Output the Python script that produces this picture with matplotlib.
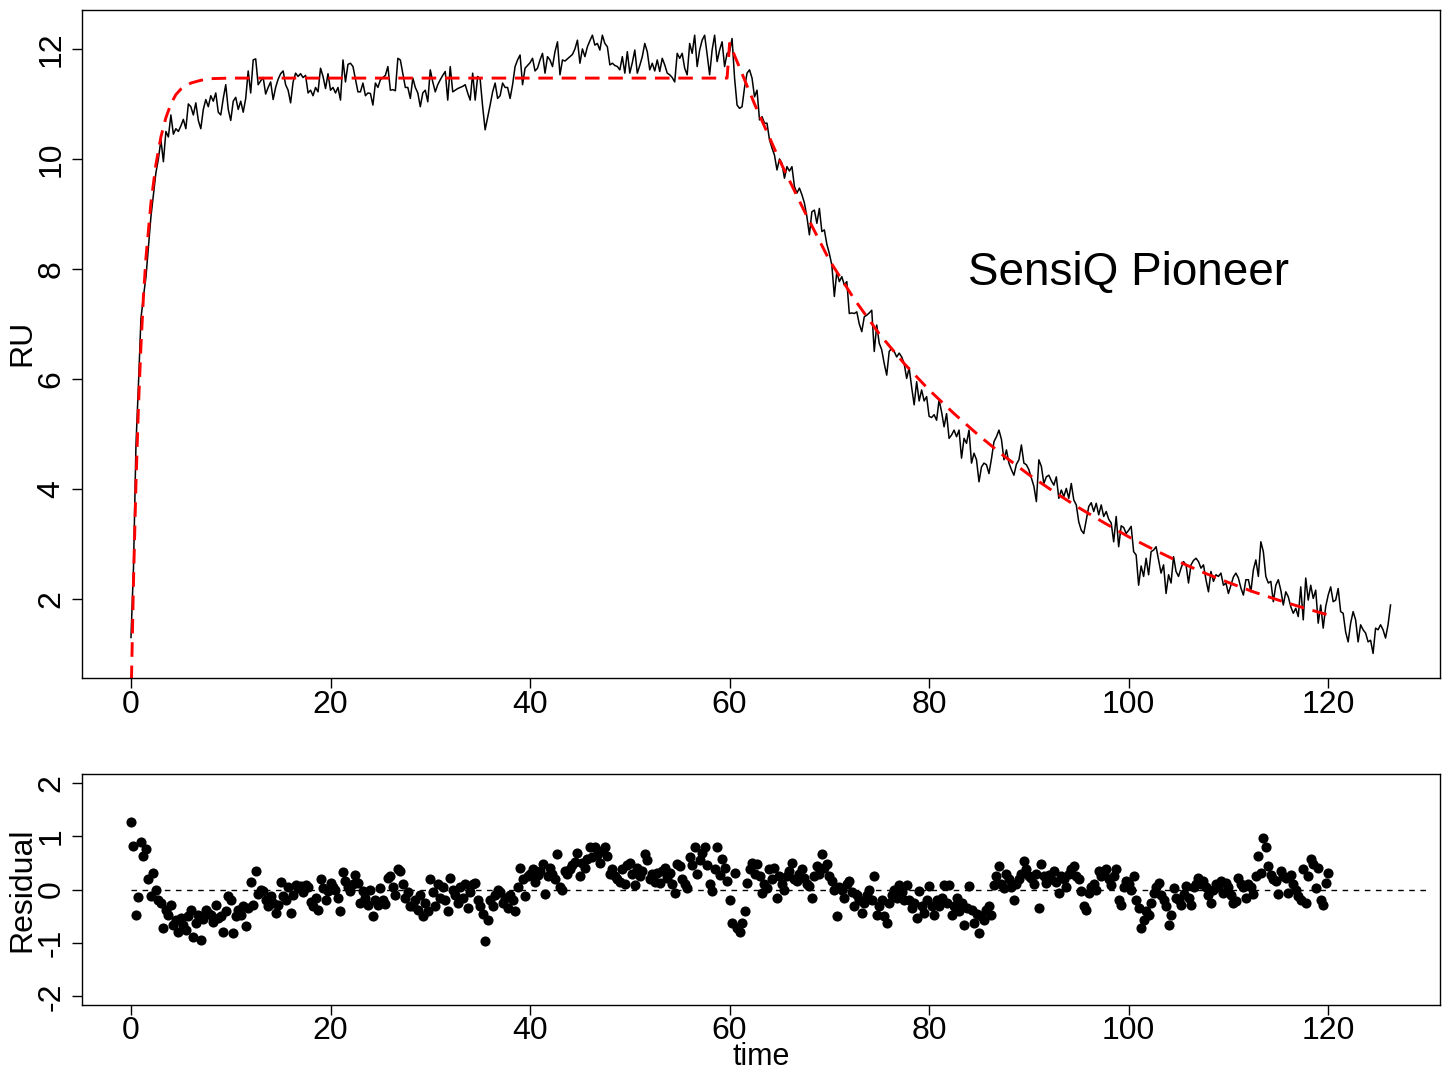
import numpy as np
import matplotlib
matplotlib.use("Agg")
import matplotlib.pyplot as plt

plt.rcParams['font.family'] = ['Liberation Sans', 'DejaVu Sans']
plt.rcParams['axes.unicode_minus'] = False

# sampling interval of the sensorgram (s)
dt = 0.25

# observed response (RU), one row = 5 s
ru_obs = [
    1.30, 2.55, 4.80, 5.90, 7.10, 7.50, 7.85, 8.40, 8.95, 9.35, 9.75, 10.00, 10.35, 9.95, 10.50, 10.40, 10.80, 10.45, 10.55, 10.50,
    10.60, 10.72, 10.55, 11.00, 10.95, 10.80, 11.02, 10.70, 10.55, 10.90, 11.08, 10.95, 11.15, 11.05, 11.20, 10.85, 10.80, 11.10, 11.35, 10.90,
    10.70, 11.05, 11.12, 10.90, 11.05, 10.85, 11.10, 11.60, 11.20, 11.80, 11.82, 11.35, 11.42, 11.48, 11.18, 11.30, 11.40, 11.08, 11.30, 11.45,
    11.55, 11.60, 11.35, 11.25, 11.02, 11.40, 11.56, 11.50, 11.55, 11.48, 11.52, 11.20, 11.25, 11.15, 11.30, 11.22, 11.65, 11.50, 11.28, 11.55,
    11.25, 11.30, 11.20, 11.30, 11.07, 11.80, 11.40, 11.72, 11.74, 11.68, 11.45, 11.22, 11.22, 11.38, 11.15, 11.20, 11.19, 10.98, 11.38, 11.30,
    11.44, 11.48, 11.52, 11.68, 11.25, 11.26, 11.24, 11.83, 11.80, 11.55, 11.30, 11.30, 11.10, 11.47, 11.30, 11.20, 10.95, 11.20, 11.25, 11.04,
    11.62, 11.40, 11.22, 11.35, 11.44, 11.52, 11.59, 11.07, 11.68, 11.22, 11.25, 11.28, 11.30, 11.32, 11.35, 11.20, 11.07, 11.56, 11.07, 11.50,
    11.45, 10.95, 10.53, 10.75, 10.98, 11.22, 11.38, 11.10, 11.15, 11.38, 11.30, 11.30, 11.10, 11.35, 11.68, 11.80, 11.89, 11.35, 11.65, 11.70,
    11.75, 11.83, 11.60, 11.65, 11.80, 11.92, 11.56, 11.86, 11.80, 11.68, 11.95, 12.13, 11.53, 11.80, 11.78, 11.82, 11.86, 11.90, 12.00, 12.16,
    11.74, 12.00, 11.86, 12.04, 12.15, 12.25, 12.07, 12.10, 11.98, 12.25, 12.10, 12.04, 11.71, 11.74, 11.70, 11.68, 11.62, 11.86, 11.56, 11.95,
    11.56, 11.75, 11.98, 11.56, 11.70, 11.86, 12.10, 11.95, 11.62, 11.74, 11.60, 11.80, 11.59, 11.83, 11.71, 11.56, 11.53, 11.48, 11.40, 11.92,
    11.83, 11.92, 11.65, 11.53, 12.10, 11.92, 12.25, 11.68, 11.98, 12.16, 12.25, 11.90, 11.53, 11.98, 12.25, 11.77, 11.98, 12.13, 11.68, 11.92,
    11.95, 12.19, 11.47, 10.98, 10.92, 10.95, 11.30, 11.56, 11.62, 11.47, 11.13, 11.25, 10.71, 10.77, 10.65, 10.65, 10.35, 10.20, 10.07, 9.80,
    10.00, 9.92, 9.65, 9.86, 9.78, 9.86, 9.50, 9.38, 9.47, 9.35, 9.20, 8.95, 8.62, 9.04, 9.07, 8.83, 9.10, 8.68, 8.71, 8.45,
    8.28, 8.07, 7.50, 7.95, 7.77, 7.86, 7.71, 7.77, 7.19, 7.20, 7.19, 7.22, 7.00, 6.86, 7.13, 7.16, 7.20, 7.25, 6.50, 6.98,
    6.65, 6.53, 6.28, 6.07, 6.50, 6.56, 6.50, 6.40, 6.47, 6.40, 6.28, 6.01, 6.20, 5.85, 5.53, 5.95, 5.60, 5.80, 5.60, 5.68,
    5.32, 5.30, 5.35, 5.25, 5.62, 5.40, 5.13, 5.37, 4.92, 4.98, 5.07, 4.95, 5.07, 4.56, 4.92, 4.83, 5.07, 4.47, 4.65, 4.53,
    4.13, 4.40, 4.47, 4.44, 4.28, 4.55, 4.86, 4.95, 5.07, 4.90, 4.53, 4.71, 4.47, 4.35, 4.25, 4.45, 4.53, 4.80, 4.47, 4.44,
    4.35, 4.20, 4.05, 3.77, 4.53, 4.41, 4.10, 4.22, 4.25, 4.15, 4.07, 4.22, 3.83, 3.98, 3.86, 4.01, 3.83, 4.10, 3.80, 3.71,
    3.40, 3.25, 3.19, 3.43, 3.68, 3.75, 3.59, 3.74, 3.53, 3.71, 3.50, 3.59, 3.45, 3.38, 3.04, 3.50, 2.95, 3.33, 3.30, 3.19,
    3.25, 3.32, 2.86, 2.80, 2.25, 2.60, 2.41, 2.74, 2.44, 2.86, 2.89, 2.95, 2.71, 2.47, 2.62, 2.10, 2.44, 2.29, 2.77, 2.50,
    2.41, 2.56, 2.68, 2.62, 2.29, 2.62, 2.70, 2.74, 2.68, 2.56, 2.62, 2.35, 2.13, 2.50, 2.32, 2.44, 2.41, 2.47, 2.25, 2.29,
    2.10, 2.25, 2.40, 2.47, 2.38, 2.20, 2.07, 2.35, 2.35, 2.13, 2.53, 2.71, 2.41, 3.04, 2.86, 2.41, 2.29, 2.32, 1.95, 2.25,
    2.35, 2.16, 1.89, 2.13, 2.04, 1.86, 1.74, 1.83, 1.68, 2.22, 1.62, 2.38, 1.98, 2.25, 2.01, 2.16, 1.56, 1.89, 1.47, 1.86,
    2.07, 2.22, 1.95, 1.98, 2.19, 1.77, 1.74, 1.40, 1.22, 1.56, 1.77, 1.62, 1.22, 1.53, 1.44, 1.38, 1.22, 1.25, 1.01, 1.47,
    1.44, 1.53, 1.44, 1.29, 1.53, 1.89,
]

# residuals (observed - fitted), 0 .. 120 s
resid = [
    1.26, 0.82, -0.47, -0.14, 0.89, 0.63, 0.75, 0.19, -0.13, 0.31, -0.01, -0.19, -0.25, -0.72, -0.38, -0.47, -0.28, -0.66, -0.57, -0.79,
    -0.53, -0.66, -0.75, -0.50, -0.38, -0.88, -0.63, -0.47, -0.94, -0.55, -0.38, -0.44, -0.47, -0.60, -0.28, -0.53, -0.50, -0.79, -0.40, -0.13,
    -0.19, -0.82, -0.50, -0.38, -0.47, -0.30, -0.68, -0.35, 0.14, -0.28, 0.35, -0.09, 0.00, -0.03, -0.20, -0.31, -0.13, -0.25, -0.44, -0.28,
    0.14, -0.13, -0.19, 0.05, -0.44, -0.10, 0.09, 0.02, 0.06, -0.05, 0.09, 0.05, -0.24, -0.30, -0.15, -0.39, 0.20, 0.03, -0.19, -0.03,
    0.13, 0.05, 0.00, -0.15, -0.41, 0.33, 0.16, 0.05, -0.03, 0.10, 0.28, 0.13, -0.25, -0.03, -0.15, -0.28, 0.00, -0.50, -0.20, -0.28,
    0.03, -0.19, -0.27, 0.22, 0.25, 0.05, -0.10, 0.38, 0.35, 0.10, -0.15, -0.05, -0.30, -0.31, -0.20, -0.38, -0.10, -0.50, -0.25, -0.40,
    0.19, -0.05, -0.30, 0.10, -0.15, 0.05, -0.20, -0.41, 0.22, 0.00, -0.10, -0.25, 0.05, -0.15, 0.10, -0.35, -0.05, 0.10, 0.13, -0.20,
    -0.30, -0.45, -0.96, -0.57, -0.20, -0.30, -0.10, 0.00, -0.05, -0.25, -0.15, -0.35, -0.10, -0.20, -0.41, 0.05, 0.41, 0.20, -0.13, 0.25,
    0.30, 0.38, 0.15, 0.28, 0.35, 0.47, -0.09, 0.25, 0.40, 0.30, 0.20, 0.66, 0.05, -0.01, 0.35, 0.30, 0.38, 0.45, 0.52, 0.69,
    0.25, 0.50, 0.40, 0.58, 0.79, 0.60, 0.79, 0.65, 0.50, 0.72, 0.79, 0.63, 0.30, 0.38, 0.25, 0.20, 0.15, 0.38, 0.10, 0.45,
    0.50, 0.30, 0.09, 0.40, 0.25, 0.35, 0.66, 0.55, 0.20, 0.30, 0.15, 0.31, 0.12, 0.35, 0.41, 0.22, 0.31, 0.10, -0.06, 0.47,
    0.44, 0.20, 0.10, 0.03, 0.60, 0.45, 0.79, 0.30, 0.55, 0.69, 0.79, 0.45, 0.10, -0.03, 0.38, 0.79, 0.28, 0.57, 0.40, 0.16,
    -0.19, -0.63, 0.31, -0.72, -0.79, -0.63, -0.41, 0.13, 0.38, 0.50, 0.30, 0.47, 0.25, -0.06, 0.10, 0.03, 0.38, 0.20, 0.41, -0.16,
    0.25, 0.10, 0.00, 0.25, 0.35, 0.50, 0.20, 0.16, 0.30, 0.38, 0.22, 0.10, 0.06, -0.16, 0.25, 0.44, 0.30, 0.66, 0.41, 0.47,
    0.25, 0.16, 0.00, -0.50, 0.05, 0.00, -0.16, 0.10, 0.16, -0.05, -0.31, -0.10, -0.19, -0.44, -0.25, -0.10, 0.00, -0.20, 0.25, -0.47,
    -0.30, -0.19, -0.50, -0.63, -0.25, -0.10, 0.00, -0.15, 0.09, -0.05, -0.20, 0.09, -0.19, -0.35, -0.25, -0.54, -0.03, -0.30, -0.44, -0.20,
    0.06, -0.30, -0.47, -0.20, -0.31, -0.15, 0.09, -0.25, 0.09, -0.47, -0.31, -0.16, -0.40, -0.25, -0.66, -0.35, 0.06, -0.38, -0.63, -0.45,
    -0.82, -0.50, -0.57, -0.38, -0.30, -0.47, 0.09, 0.25, 0.44, 0.10, 0.03, 0.30, 0.19, 0.05, -0.19, 0.10, 0.19, 0.30, 0.53, 0.38,
    0.25, 0.22, 0.10, 0.30, -0.35, 0.47, 0.25, 0.13, 0.28, 0.20, 0.35, 0.15, -0.06, 0.25, 0.19, 0.05, 0.30, 0.38, 0.44, 0.25,
    0.19, -0.03, -0.31, -0.38, -0.06, 0.05, 0.10, 0.00, 0.35, 0.25, 0.30, 0.38, 0.20, 0.09, 0.25, 0.38, -0.19, -0.28, 0.05, 0.16,
    0.10, 0.00, 0.25, -0.19, -0.35, -0.72, -0.57, -0.40, -0.47, -0.25, -0.06, 0.05, 0.13, -0.10, -0.19, -0.30, -0.66, -0.47, 0.03, -0.15,
    -0.20, -0.28, -0.09, 0.06, -0.15, -0.28, 0.05, 0.10, 0.22, 0.10, 0.16, 0.05, -0.10, -0.25, 0.00, 0.10, 0.05, 0.16, -0.06, 0.13,
    0.05, -0.10, -0.25, -0.22, 0.22, 0.10, 0.05, -0.16, 0.10, 0.05, -0.09, 0.25, 0.63, 0.31, 0.97, 0.79, 0.44, 0.28, 0.20, 0.16,
    -0.09, 0.35, 0.25, 0.22, -0.06, 0.28, 0.10, 0.00, -0.13, -0.19, 0.38, -0.25, 0.25, 0.57, 0.47, 0.03, 0.40, -0.19, -0.28, 0.13,
    0.31,
]

# fitted 1:1 binding model (association to 60 s, then dissociation)
fit_t = [0, 0.25, 0.5, 0.75, 1.0, 1.25, 1.5, 2.0, 2.5, 3.0, 3.5, 4.0, 4.5, 5.0, 6.0, 7.0, 8.0, 10.0, 59.75,
         60.0, 62.5, 65.0, 67.5, 70.0, 72.5, 75.0, 77.5, 80.0, 82.5, 85.0, 87.5, 90.0, 92.5, 95.0, 97.5,
         100.0, 102.5, 105.0, 107.5, 110.0, 112.5, 115.0, 117.5, 120.0]
fit_ru = [0.10, 2.30, 4.10, 5.50, 6.60, 7.50, 8.20, 9.20, 9.90, 10.40, 10.75, 11.00, 11.17, 11.27, 11.38, 11.43, 11.46, 11.47, 11.47,
          12.10, 11.00, 9.98, 9.05, 8.16, 7.45, 6.82, 6.28, 5.80, 5.37, 4.97, 4.60, 4.26, 3.95, 3.66, 3.39,
          3.13, 2.90, 2.68, 2.48, 2.30, 2.13, 1.98, 1.84, 1.71]

zero_t = [0, 130]
x_ticks = [0, 20, 40, 60, 80, 100, 120]
ru_ticks = [2, 4, 6, 8, 10, 12]
res_ticks = [-2, -1, 0, 1, 2]

t_obs = np.arange(len(ru_obs)) * dt
t_res = np.arange(len(resid)) * dt

fig = plt.figure(figsize=(14.46, 10.70), dpi=100)
ax1 = fig.add_axes([0.0567, 0.3664, 0.9391, 0.6243])
ax2 = fig.add_axes([0.0567, 0.0607, 0.9391, 0.2159])

# Sensorgram with fitted curve.
ax1.plot(t_obs, ru_obs, color='black', lw=1.1)
ax1.plot(fit_t, fit_ru, color='red', lw=2.1, dashes=(5, 3))
ax1.text(100, 7.93, 'SensiQ Pioneer', fontsize=33, ha='center', va='center')
ax1.set_xlim(-4.91, 131.2)
ax1.set_ylim(0.564, 12.709)
ax1.set_xticks(x_ticks)
ax1.set_yticks(ru_ticks)

# Residual panel.
ax2.plot(t_res, resid, 'o', color='black', markersize=7.3, markeredgewidth=0)
ax2.plot(zero_t, [0, 0], color='black', lw=1.0, dashes=(4, 4))
ax2.set_xlim(-4.91, 131.2)
ax2.set_ylim(-2.16, 2.16)
ax2.set_xticks(x_ticks)
ax2.set_yticks(res_ticks)

for ax in (ax1, ax2):
    for s in ax.spines.values():
        s.set_linewidth(1.0)
    ax.tick_params(axis='both', length=7, width=1.0, labelsize=23)
    ax.tick_params(axis='x', pad=2)
    ax.tick_params(axis='y', pad=4)
    plt.setp(ax.get_yticklabels(), rotation=90, va='center')
ax2.tick_params(axis='x', pad=1)

fig.text(22 / 1446, 1 - 343 / 1070, 'RU', fontsize=23, rotation=90, ha='center', va='center')
fig.text(22 / 1446, 1 - 890 / 1070, 'Residual', fontsize=23, rotation=90, ha='center', va='center')
fig.text(761 / 1446, 1 - 1065 / 1070, 'time', fontsize=22, ha='center', va='baseline')

fig.savefig('out.png', dpi=100)
